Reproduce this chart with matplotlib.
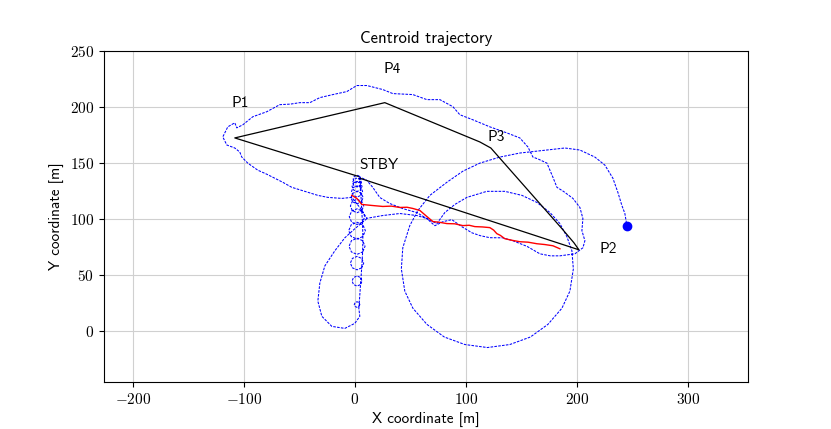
import numpy as np
import matplotlib.pyplot as plt
from matplotlib.ticker import FuncFormatter

plt.rcParams['mathtext.fontset'] = 'cm'
plt.rcParams['axes.unicode_minus'] = False

# black reference path: STBY -> P1 -> P4 -> P3 -> P2 -> STBY
ref_x = [3, -108.1, 27, 112.6, 122.5, 186.5, 197.3, 201.8, 4.5]
ref_y = [138.5, 172.8, 204.3, 169.2, 163.8, 91.8, 79.2, 72.9, 136.8]

# waypoint labels
wp_names = ['P1', 'P4', 'P3', 'STBY', 'P2']
wp_x = [-103.6, 33.3, 127, 21.6, 228]
wp_y = [204.3, 234, 173.7, 148.5, 73.8]

# measured centroid (red)
meas_x = [-2.7, 1.8, 6.3, 15.3, 25.2, 33, 40.5, 47, 52.3, 58.6, 64.9, 70.3, 76, 82.9,
          90, 97.3, 103, 108.1, 115, 121.6, 125, 127.9, 131, 135.1, 142, 148.6, 156,
          164, 171, 178.4, 184.7]
meas_y = [121.5, 118.8, 113.4, 112.5, 111.6, 111.9, 110.7, 110.9, 109.8, 108, 102.6, 98.1,
          97.5, 96.3, 96.1, 94.5, 94.8, 93.6, 93.3, 92.7, 90.5, 87.3, 85.8, 82.8, 81.3,
          80.1, 79.7, 78.3, 77.6, 76.5, 73.8]

# estimated trajectory (blue dashed)
traj_x = [
    # lower-left loop
    10.8, 0, -9, -18, -27, -31.5, -33.3, -29.7, -20.7, -9, 0, 4.5, 3.6,
    # spiral going up
    3.75, 4.5, 3.75, 2, 0.25, -0.5, 0.25, 2, 3.75,
    5.15, 6.5, 5.15, 2, -1.15, -2.5, -1.15, 2, 5.15,
    6.2, 8, 6.2, 2, -2.2, -4, -2.2, 2, 6.2,
    7.04, 9.2, 7.04, 2, -3.04, -5.2, -3.04, 2, 7.04,
    7.25, 9.5, 7.25, 2, -3.25, -5.5, -3.25, 2, 7.25,
    6.9, 9, 6.9, 2, -2.9, -5, -2.9, 2, 6.9,
    6.2, 8, 6.2, 2, -2.2, -4, -2.2, 2, 6.2,
    5.85, 7.5, 5.85, 2, -1.85, -3.5, -1.85, 2, 5.85,
    5.5, 7, 5.5, 2, -1.5, -3, -1.5, 2, 5.5,
    5.15, 6.5, 5.15, 2, -1.15, -2.5, -1.15, 2, 5.15,
    4.8, 6, 4.8, 2, -0.8, -2, -0.8, 2, 4.8,
    4.45, 5.5, 4.45, 2, -0.45, -1.5, -0.45, 2, 4.45, 3.5,
    # cloud: lower side to P2
    10.8, 16.2, 22.5, 31.5, 43.2, 55.9, 64.9, 72.1, 79.3, 87.4, 96.4, 105.4, 113,
    121.6, 133.3, 142.3, 155, 166.7, 176, 184.7, 192, 198.2, 205.4,
    # right side up
    207.2, 204.5, 205.4, 202.7, 196.4, 188, 182, 178.4, 173, 165, 160.4, 155.9,
    148.6, 136.9, 121.6, 106.3, 94.6, 88.3, 76.6, 64.9, 52.3, 34.2, 25.2, 10.8,
    1.8, -7.2, -19.8, -31.5, -40.5, -49.5, -58, -67.6, -79.3, -91.9, -100.9, -106.3,
    # P1 lobe and lower-left side
    -108.1, -114.4, -118.9, -115.3, -108.1, -103.6, -101.8, -96.4, -87.4, -79.3,
    -72.1, -64.9, -56.8, -42.3, -33.3, -24.3, -11.7, -2.7, 5, 10.8,
    # to the circle
    25.2, 40.5, 55.9, 64.9, 73.9, 81.1, 90.1, 100.9, 118.9, 135.1, 150.5, 164,
    175.7, 184.7, 191, 195.5,
    # circle
    196.8, 193.7, 186.5, 173.9, 158.1, 139.6, 119.4, 99.1, 80.6, 64.9, 52.3, 45,
    41.9, 43.2, 49.5,
    # outgoing arc
    56.8, 67.6, 82.9, 97.3, 112.6, 130.6, 148.6, 173, 189.2, 202.7, 216.2, 225.2,
    232.4, 236.9, 240.5, 243.2, 245,
]
traj_y = [
    100.7, 91.7, 83.6, 72, 58.5, 43.2, 27, 13.5, 4.5, 2.7, 7.2, 13.5, 20.7,
    22.25, 24, 25.75, 26.5, 25.75, 24, 22.25, 21.5, 22.25,
    41.85, 45, 48.15, 49.5, 48.15, 45, 41.85, 40.5, 41.85,
    56.8, 61, 65.2, 67, 65.2, 61, 56.8, 55, 56.8,
    70.96, 76, 81.04, 83.2, 81.04, 76, 70.96, 68.8, 70.96,
    84.75, 90, 95.25, 97.5, 95.25, 90, 84.75, 82.5, 84.75,
    97.6, 102.5, 107.4, 109.5, 107.4, 102.5, 97.6, 95.5, 97.6,
    107.8, 112, 116.2, 118, 116.2, 112, 107.8, 106, 107.8,
    115.65, 119.5, 123.35, 125, 123.35, 119.5, 115.65, 114, 115.65,
    121.5, 125, 128.5, 130, 128.5, 125, 121.5, 120, 121.5,
    126.35, 129.5, 132.65, 134, 132.65, 129.5, 126.35, 125, 126.35,
    130.2, 133, 135.8, 137, 135.8, 133, 130.2, 129, 130.2,
    133.55, 136, 138.45, 139.5, 138.45, 136, 133.55, 132.5, 133.55, 138.5,
    134.9, 128.6, 119.6, 114.2, 109.7, 106.1, 100.7, 94.4, 98, 99.8, 93.5, 88.1, 85.5,
    83.7, 83.6, 81, 76, 69.3, 67.5, 67.5, 68.5, 69.3, 74.7,
    81, 90, 100.8, 110.7, 118.8, 125, 128.7, 137.7, 150.3, 154, 155.7, 164.7,
    172.8, 177.3, 182.7, 189, 193.5, 200.7, 207, 207, 211.5, 212.4, 216, 219.6,
    219.6, 214.2, 211.5, 208.8, 204.3, 204.3, 203, 202.5, 196.2, 191.7, 184.5, 181.8,
    186.3, 182.7, 173.7, 166.5, 163.8, 160.2, 155.7, 150.3, 144, 140.4,
    136.8, 133.2, 128.7, 124.2, 121.5, 119.7, 118.8, 119.7, 110, 101,
    103.5, 105.3, 103.5, 100.8, 96.3, 106.2, 113.4, 119.7, 125.1, 125.1, 121.5, 115.2,
    106.2, 96.3, 84.6, 72,
    55.8, 36, 20.7, 6.3, -5, -11.7, -14.4, -11.7, -5, 6.3, 20.7, 36,
    55.8, 74.7, 94.5,
    108, 121.5, 133.2, 143.1, 150.3, 155.7, 159.3, 162, 163.8, 162, 155.7, 148.5,
    136.8, 124.2, 112.5, 105.3, 94.5,
]

fig, ax = plt.subplots(figsize=(8.31, 4.29), dpi=100)

ax.plot(traj_x, traj_y, color='blue', linestyle=(0, (2.5, 1.2)), linewidth=0.75)
ax.plot(traj_x[-1], traj_y[-1], 'o', color='blue', markersize=6)
ax.plot(meas_x, meas_y, color='red', linewidth=1.0)
ax.plot(ref_x, ref_y, color='black', linewidth=0.9)

sans = 'cmss10'
for name, x, y in zip(wp_names, wp_x, wp_y):
    ax.text(x, y, name, family=sans, fontsize=11, ha='center', va='center')

ax.set_xlim(-226, 354)
ax.set_ylim(-45, 250)
ax.set_xticks([-200, -100, 0, 100, 200, 300])
ax.set_yticks([0, 50, 100, 150, 200, 250])
fmt = FuncFormatter(lambda v, pos: r'$%d$' % v)
ax.xaxis.set_major_formatter(fmt)
ax.yaxis.set_major_formatter(fmt)
ax.tick_params(labelsize=11)
ax.grid(color='#d0d0d0', linewidth=0.8)
ax.set_axisbelow(True)

ax.set_title('Centroid trajectory', family=sans, fontsize=12)
ax.set_xlabel('X coordinate [m]', family=sans, fontsize=11)
ax.set_ylabel('Y coordinate [m]', family=sans, fontsize=11)

fig.savefig('out.png', dpi=100)
